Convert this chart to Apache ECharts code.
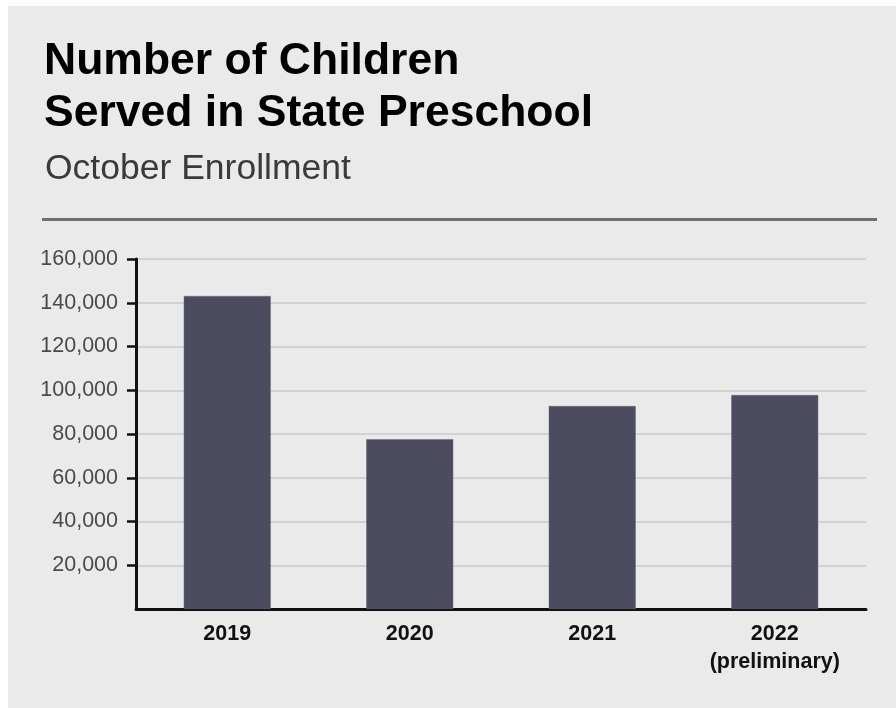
<!DOCTYPE html>
<html>
<head>
<meta charset="utf-8">
<script src="https://cdn.jsdelivr.net/npm/echarts@6/dist/echarts.min.js"></script>
<style>
  html, body { margin: 0; padding: 0; background: #ffffff; }
  #wrap { position: relative; width: 896px; height: 708px; background: #ffffff; }
  #panel { position: absolute; left: 8px; top: 6px; width: 888px; height: 702px; background: #eaeaea; }
  #chart { position: absolute; left: 0; top: 0; width: 896px; height: 708px; }
</style>
</head>
<body>
<div id="wrap"><div id="panel"></div><div id="chart"></div></div>
<script>
const categories = ['2019', '2020', '2021', '2022\n(preliminary)'];
const enrollment = [143100, 77600, 92800, 97800];
const yTicks = [0, 20000, 40000, 60000, 80000, 100000, 120000, 140000, 160000];

const chart = echarts.init(document.getElementById('chart'), null, { renderer: 'canvas' });
const font = '"Liberation Sans", Arial, Helvetica, sans-serif';

chart.setOption({
  backgroundColor: 'transparent',
  animation: false,
  title: [
    {
      text: 'Number of Children\nServed in State Preschool',
      left: 39,
      top: 31,
      textStyle: { fontFamily: font, fontSize: 44.5, fontWeight: 'bold', color: '#000000', lineHeight: 52 }
    },
    {
      text: 'October Enrollment',
      left: 40,
      top: 146,
      textStyle: { fontFamily: font, fontSize: 35.5, fontWeight: 'normal', color: '#3a3a3a' }
    }
  ],
  graphic: [
    {
      type: 'line',
      shape: { x1: 42, y1: 219.5, x2: 877, y2: 219.5 },
      style: { stroke: '#6f6f6f', lineWidth: 3 }
    }
  ],
  grid: { left: 136, right: 30, top: 259, bottom: 99, containLabel: false },
  xAxis: {
    type: 'category',
    data: categories,
    axisLine: { show: true, lineStyle: { color: '#111111', width: 3 } },
    axisTick: { show: false },
    axisLabel: {
      margin: 11,
      fontFamily: font,
      fontSize: 21.5,
      fontWeight: 'bold',
      color: '#111111',
      lineHeight: 28
    }
  },
  yAxis: {
    type: 'value',
    min: yTicks[0],
    max: yTicks[yTicks.length - 1],
    interval: yTicks[1] - yTicks[0],
    axisLine: { show: true, lineStyle: { color: '#111111', width: 3 } },
    axisTick: { show: true, length: 9, customValues: yTicks.slice(1), lineStyle: { color: '#111111', width: 2.5 } },
    splitLine: { show: true, lineStyle: { color: '#d2d2d2', width: 2 } },
    axisLabel: {
      margin: 18,
      fontFamily: font,
      fontSize: 21.5,
      color: '#4a4a4a',
      customValues: yTicks.slice(1),
      formatter: function (v) { return v === 0 ? '' : v.toLocaleString('en-US'); }
    }
  },
  series: [
    {
      type: 'bar',
      data: enrollment,
      barWidth: 87,
      itemStyle: { color: '#4b4c5f', borderColor: '#6a6b7c', borderWidth: 0.5 }
    }
  ]
});
</script>
</body>
</html>
